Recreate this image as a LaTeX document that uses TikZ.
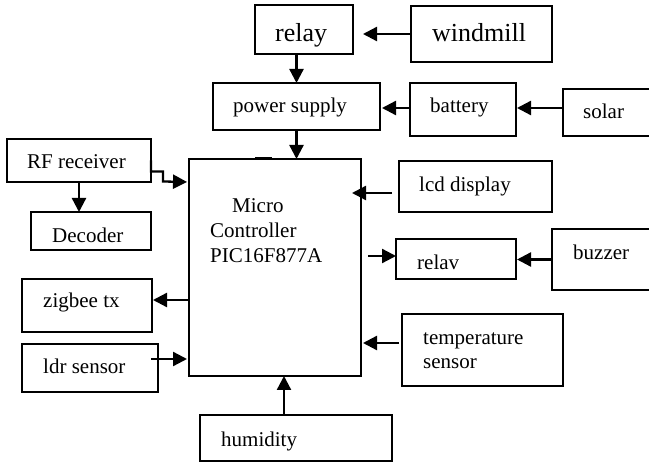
\documentclass[tikz,border=0pt]{standalone}
\usepackage{fontspec}
\setmainfont{Liberation Serif}
\usetikzlibrary{arrows.meta}
\begin{document}
\begin{tikzpicture}[x=1pt,y=-1pt,
  blk/.style={draw,line width=1.7pt,inner sep=0pt,outer sep=0pt},
  txt/.style={anchor=base west,inner sep=0pt,font=\fontsize{21}{25}\selectfont},
  bigtxt/.style={anchor=base west,inner sep=0pt,font=\fontsize{26}{30}\selectfont},
  arr/.style={line width=2.3pt,-{Triangle[length=14pt,width=14pt]}}]
\useasboundingbox (0,0) rectangle (649,462);

% blocks
\node[blk,minimum width=98pt,minimum height=49pt]  (relay)   at (304,29.5) {};
\node[blk,minimum width=141pt,minimum height=56pt] (wind)    at (481.5,34) {};
\node[blk,minimum width=167pt,minimum height=47pt] (ps)      at (296.5,106.5) {};
\node[blk,minimum width=106pt,minimum height=53pt] (bat)     at (463,109.5) {};
\node[blk,minimum width=87pt,minimum height=47pt]  (solar)   at (606.5,112.5) {};
\node[blk,minimum width=144pt,minimum height=43pt] (rf)      at (79,160.5) {};
\node[blk,minimum width=120pt,minimum height=38pt] (dec)     at (91,231) {};
\node[blk,minimum width=172pt,minimum height=217pt] (mc)     at (275,267.5) {};
\node[blk,minimum width=153pt,minimum height=51pt] (lcd)     at (475.5,186.5) {};
\node[blk,minimum width=120pt,minimum height=40pt] (relav)   at (456,259) {};
\node[blk,minimum width=98pt,minimum height=61pt]  (buzz)    at (601,259.5) {};
\node[blk,minimum width=130pt,minimum height=53pt] (zig)     at (87,305.5) {};
\node[blk,minimum width=136pt,minimum height=48pt] (ldr)     at (90,368) {};
\node[blk,minimum width=161pt,minimum height=72pt] (temp)    at (482.5,350) {};
\node[blk,minimum width=192pt,minimum height=46pt] (hum)     at (296,438) {};

% short thick mark on the controller's top edge
\draw[line width=2.4pt] (255,158.4) -- (272,158.4);

% labels
\node[bigtxt] (relayT) at (275,42) {relay};
\node[bigtxt] (windT)  at (432,42) {windmill};
\node[txt] (psT)    at (233,113) {power supply};
\node[txt] (batT)   at (430,113) {battery};
\node[txt] (solarT) at (583,119) {solar};
\node[txt] (rfT)    at (27,169) {RF receiver};
\node[txt] (decT)   at (52,243) {Decoder};
\node[txt] (mcT1)   at (232,213) {Micro};
\node[txt] (mcT2)   at (210,238) {Controller};
\node[txt] (mcT3)   at (210,263) {PIC16F877A};
\node[txt] (lcdT)   at (419,192) {lcd display};
\node[txt] (relavT) at (417,270) {relav};
\node[txt] (buzzT)  at (573,260) {buzzer};
\node[txt] (zigT)   at (43,308) {zigbee tx};
\node[txt] (ldrT)   at (43,374) {ldr sensor};
\node[txt] (tempT1) at (423,345) {temperature};
\node[txt] (tempT2) at (423,369) {sensor};
\node[txt] (humT)   at (221,447) {humidity};

% connectors
\draw[arr,shorten >=10pt] (wind.west) -- (wind.west -| relay.east);
\draw[arr] (relay.south -| ps.north) -- (ps.north);
\draw[arr,shorten >=2pt] ([yshift=1.5pt]bat.west) -- ([yshift=1.5pt]bat.west -| ps.east);
\draw[arr,shorten >=1pt] ([yshift=4.5pt]solar.west) -- ([yshift=4.5pt]solar.west -| bat.east);
\draw[arr] (ps.south) -- (ps.south |- mc.north);
\draw[arr] (rf.south) -- (rf.south |- dec.north);
\draw[arr,shorten >=2pt] (rf.east) -- ++(0,11) -- ++(12,0) -- ++(0,10) -- (mc.west |- rf.south);
\draw[arr,shorten <=7pt,shorten >=-9pt] ([yshift=-6.5pt]lcd.west) -- ([yshift=-6.5pt]lcd.west -| mc.east);
\draw[arr,shorten <=7pt] ([yshift=3pt]relav.west -| mc.east) -- ([yshift=3pt]relav.west);
\draw[arr,shorten >=1pt] (buzz.west) -- (buzz.west -| relav.east);
\draw[arr,shorten >=1pt] ([yshift=5.5pt]zig.east -| mc.west) -- ([yshift=5.5pt]zig.east);
\draw[arr,shorten <=-7pt,shorten >=2pt] ([yshift=9pt]ldr.east) -- ([yshift=9pt]ldr.east -| mc.west);
\draw[arr,shorten <=3pt,shorten >=2pt] ([yshift=7pt]temp.west) -- ([yshift=7pt]temp.west -| mc.east);
\draw[arr] ([xshift=-12pt]hum.north) -- ([xshift=-12pt]hum.north |- mc.south);
\end{tikzpicture}
\end{document}
